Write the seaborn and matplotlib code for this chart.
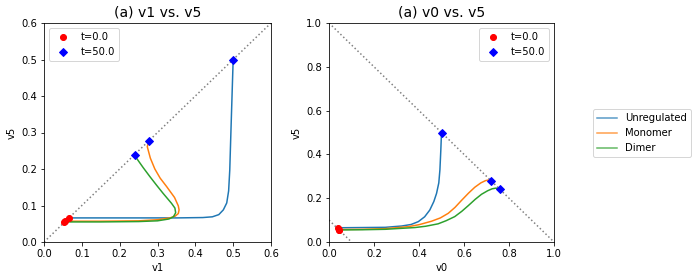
import matplotlib
matplotlib.use("Agg")
import matplotlib.pyplot as plt
from matplotlib.lines import Line2D
import seaborn as sns
import pandas as pd

series = ["Unregulated", "Monomer", "Dimer"]
colors = ["#1f77b4", "#ff7f0e", "#2ca02c"]

# Panel 1: v1 vs v5
v1_unreg = [0.065, 0.15, 0.25, 0.35, 0.42, 0.445, 0.462, 0.474, 0.483, 0.488, 0.491, 0.494, 0.497, 0.5]
v5_unreg_a = [0.066, 0.066, 0.066, 0.066, 0.067, 0.069, 0.075, 0.088, 0.107, 0.14, 0.197, 0.3, 0.4, 0.5]
v1_mono = [0.055, 0.15, 0.25, 0.3, 0.333, 0.347, 0.355, 0.357, 0.355, 0.345, 0.324, 0.307, 0.293, 0.281, 0.273, 0.277]
v5_mono_a = [0.057, 0.057, 0.058, 0.061, 0.066, 0.071, 0.078, 0.088, 0.099, 0.122, 0.152, 0.175, 0.2, 0.23, 0.261, 0.277]
v1_dimer = [0.053, 0.15, 0.25, 0.3, 0.33, 0.342, 0.348, 0.346, 0.337, 0.315, 0.298, 0.28, 0.262, 0.245, 0.24]
v5_dimer_a = [0.055, 0.055, 0.056, 0.058, 0.063, 0.069, 0.080, 0.093, 0.106, 0.133, 0.155, 0.179, 0.204, 0.229, 0.238]

# Panel 2: v0 vs v5
v0_unreg = [0.04, 0.15, 0.25, 0.323, 0.365, 0.397, 0.425, 0.448, 0.466, 0.478, 0.488, 0.493, 0.497, 0.5]
v5_unreg_b = [0.065, 0.066, 0.067, 0.073, 0.08, 0.093, 0.115, 0.146, 0.185, 0.222, 0.27, 0.33, 0.42, 0.5]
v0_mono = [0.045, 0.15, 0.25, 0.352, 0.4, 0.456, 0.495, 0.53, 0.56, 0.589, 0.62, 0.648, 0.675, 0.695, 0.708, 0.722]
v5_mono_b = [0.057, 0.058, 0.061, 0.07, 0.079, 0.095, 0.11, 0.131, 0.158, 0.19, 0.223, 0.25, 0.27, 0.28, 0.283, 0.277]
v0_dimer = [0.045, 0.15, 0.25, 0.382, 0.43, 0.485, 0.52, 0.559, 0.59, 0.619, 0.65, 0.678, 0.705, 0.725, 0.742, 0.76]
v5_dimer_b = [0.055, 0.056, 0.058, 0.066, 0.072, 0.083, 0.097, 0.116, 0.14, 0.166, 0.195, 0.218, 0.234, 0.243, 0.246, 0.24]

panels = [
    ("(a) v1 vs. v5", "v1", 0.6, [(v1_unreg, v5_unreg_a), (v1_mono, v5_mono_a), (v1_dimer, v5_dimer_a)]),
    ("(a) v0 vs. v5", "v0", 1.0, [(v0_unreg, v5_unreg_b), (v0_mono, v5_mono_b), (v0_dimer, v5_dimer_b)]),
]

ticks1 = [0.0, 0.1, 0.2, 0.3, 0.4, 0.5, 0.6]
ticks2 = [0.0, 0.2, 0.4, 0.6, 0.8, 1.0]

DPI = 72
fig = plt.figure(figsize=(697/DPI, 280/DPI), dpi=DPI)
ax1 = fig.add_axes([44/697, 1-242/280, 227/697, 219/280])
ax2 = fig.add_axes([329/697, 1-242/280, 225/697, 219/280])

for ax, (title, xlabel, lim, data), ticks in zip([ax1, ax2], panels, [ticks1, ticks2]):
    if lim == 0.6:
        ax.plot([0, 0.6], [0, 0.6], ls=":", color="gray")
    else:
        ax.plot([0, 1], [1, 0], ls=":", color="gray")
        ax.plot([0, 0.1], [0.1, 0], ls=":", color="gray")
    for (xs, ys), name, c in zip(data, series, colors):
        df = pd.DataFrame({"x": xs, "y": ys})
        sns.lineplot(data=df, x="x", y="y", sort=False, estimator=None, color=c, lw=1.5, ax=ax)
    for (xs, ys) in data:
        ax.plot(xs[0], ys[0], "o", color="red", zorder=5)
        ax.plot(xs[-1], ys[-1], "D", color="blue", zorder=5)
    ax.set_xlim(0, lim)
    ax.set_ylim(0, lim)
    ax.set_xticks(ticks)
    ax.set_yticks(ticks)
    ax.set_title(title, fontsize=14)
    ax.set_xlabel(xlabel)
    ax.set_ylabel("v5")
    h = [Line2D([], [], ls="", marker="o", color="red"),
         Line2D([], [], ls="", marker="D", color="blue")]
    ax.legend(h, ["t=0.0", "t=50.0"], loc="upper left" if lim == 0.6 else "upper right")

handles = [Line2D([], [], color=c, lw=1.5, alpha=0.75) for c in colors]
fig.legend(handles, series, loc="center left", bbox_to_anchor=(588/697, 1-133/280))

fig.savefig("out.png", dpi=DPI)
